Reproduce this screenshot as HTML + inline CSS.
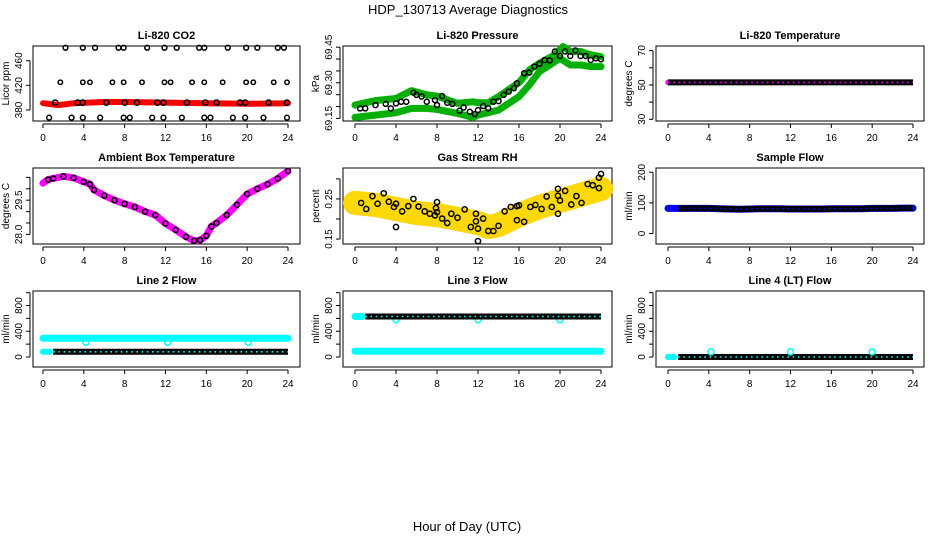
<!DOCTYPE html>
<html><head><meta charset="utf-8"><style>
html,body{margin:0;padding:0;background:#fff;}
svg{display:block;font-family:"Liberation Sans",sans-serif;}
</style></head><body>
<svg id="chart" width="936" height="540" viewBox="0 0 936 540" xmlns="http://www.w3.org/2000/svg">
<text x="468" y="14" text-anchor="middle" font-size="13">HDP_130713  Average Diagnostics</text>
<text x="467" y="531" text-anchor="middle" font-size="13">Hour of Day (UTC)</text>
</svg>
<script>
// ---------- data ----------
const hours = [0,1,2,3,4,5,6,7,8,9,10,11,12,13,14,15,16,17,18,19,20,21,22,23,24];
const xTicks = [0,4,8,12,16,20,24];

// CO2
const co2BandT = [0,1.5,3,6,8,12,16,20,24];
const co2BandV = [391,388,391,393,393,392,391,390,391];
const co2TopT = [2.2,3.9,5.1,7.4,7.9,10.2,11.9,13.1,15.3,15.8,18.1,19.9,21.0,23.0,23.6];
const co2TopV = [481,481,481,481,481,481,481,481,481,481,481,481,481,481,481];
const co2MidT = [1.7,3.9,4.6,6.8,7.9,9.7,11.9,12.5,14.6,15.8,17.6,19.9,20.6,22.6,23.9];
const co2MidV = [425,425,425,425,425,425,425,425,425,425,425,425,425,425,425];
const co2LowT = [1.2,3.4,3.9,6.2,8,9.2,11.2,11.8,14.1,15.9,17,19.3,19.8,22.1,23.9];
const co2LowV = [392,392,392,392,392,392,392,392,392,392,392,392,392,392,392];
const co2BotT = [0.6,2.8,3.9,5.6,7.9,8.5,10.7,11.8,13.6,15.8,16.4,18.6,19.8,21.6,23.9];
const co2BotV = [367.5,367.5,367.5,367.5,367.5,367.5,367.5,367.5,367.5,367.5,367.5,367.5,367.5,367.5,367.5];

// Pressure
const presT = [0.5,1,2,3,3.5,4,4.5,5,5.7,6,6.5,7,7.8,8,8.5,9,9.5,10.2,10.6,11.2,11.7,12,12.5,13,13.5,14,14.5,15,15.5,15.8,16.5,17,17.5,18,18.5,19,19.5,20,20.5,21,21.5,22,22.5,23,23.5,24];
const presV = [69.192,69.192,69.206,69.211,69.192,69.213,69.220,69.220,69.258,69.249,69.242,69.220,69.227,69.206,69.244,69.216,69.211,69.182,69.196,69.178,69.168,69.185,69.202,69.192,69.220,69.223,69.249,69.263,69.277,69.298,69.340,69.343,69.368,69.380,69.396,69.394,69.432,69.413,69.432,69.413,69.436,69.413,69.413,69.396,69.403,69.399];
const presUpT = [0,2,4,5.5,7,8,10,11.5,12,13,14,16,17,18,19.5,20.3,21,22,23,24];
const presUpV = [69.206,69.225,69.234,69.267,69.249,69.244,69.213,69.220,69.216,69.216,69.242,69.301,69.354,69.382,69.418,69.453,69.432,69.432,69.418,69.410];
const presLoT = [0,2,4,5.5,7,8,10,11.5,12,14,16,17,18,19,20,21,22,23,24];
const presLoV = [69.154,69.164,69.174,69.192,69.192,69.188,69.171,69.154,69.164,69.185,69.242,69.291,69.347,69.375,69.403,69.375,69.375,69.368,69.368];

// Li-820 temperature
const tempLi = [51.5,51.5,51.5,51.5,51.5,51.5,51.5,51.5,51.5,51.5,51.5,51.5,51.5,51.5,51.5,51.5,51.5,51.5,51.5,51.5,51.5,51.5,51.5,51.5,51.5];

// Ambient box temperature
const ambT = [0,0.5,1,2,3,4,4.6,5,6,7,8,9,10,11,12,13,14,14.8,15.4,16,16.5,17,18,19,20,21,22,23,24];
const ambV = [30.25,30.4,30.45,30.54,30.48,30.3,30.2,29.95,29.7,29.5,29.34,29.2,29.0,28.85,28.48,28.2,27.9,27.72,27.75,27.94,28.35,28.5,28.85,29.3,29.77,30.0,30.2,30.45,30.78];

// RH
const rhT = [0.6,1.1,1.7,2.2,2.8,3.3,3.8,4,4,4.6,5.2,5.7,6.2,6.8,7.3,7.8,7.9,8,8,8.5,9,9.4,10,10.7,11.3,11.8,11.8,12,12,12.5,13,13.5,14,14.6,15.2,15.8,15.8,16,16.5,17.1,17.6,18.2,18.7,19.2,19.8,19.8,19.8,20,20.5,21.1,21.6,22.1,22.7,23.2,23.8,23.8,24];
const rhV = [0.240,0.225,0.257,0.238,0.264,0.243,0.230,0.238,0.180,0.219,0.232,0.250,0.231,0.219,0.213,0.209,0.227,0.217,0.242,0.201,0.190,0.213,0.203,0.224,0.180,0.213,0.194,0.176,0.145,0.201,0.170,0.170,0.183,0.219,0.230,0.197,0.232,0.234,0.193,0.230,0.235,0.225,0.256,0.230,0.275,0.258,0.213,0.246,0.270,0.236,0.257,0.240,0.287,0.284,0.277,0.303,0.312];
const rhCloudT = [0,2,4,6,8,10,12,13,14,16,18,20,22,24];
const rhCloudV = [0.24,0.235,0.225,0.215,0.21,0.2,0.19,0.18,0.185,0.21,0.23,0.245,0.26,0.275];

// Sample flow
const sampleFlow = [82,82,82,82,82,81,80,79,80,81,81,81,80,80,80,80,81,81,81,81,82,82,82,83,83];

// Line flows
const line2Cyan = [290,290,290,290,290,290,290,290,290,290,290,290,290,290,290,290,290,290,290,290,290,290,290,290,290];
const line2Black = [80,80,80,80,80,80,80,80,80,80,80,80,80,80,80,80,80,80,80,80,80,80,80,80,80];
const line2DipT = [4.2,12.2,20.1];
const line2DipV = [230,230,230];
const line3Upper = [630,630,630,630,630,630,630,630,630,630,630,630,630,630,630,630,630,630,630,630,630,630,630,630,630];
const line3Lower = [90,90,90,90,90,90,90,90,90,90,90,90,90,90,90,90,90,90,90,90,90,90,90,90,90];
const line3DipT = [4,12,20];
const line3DipV = [580,580,580];
const line4Flow = [0,0,0,0,0,0,0,0,0,0,0,0,0,0,0,0,0,0,0,0,0,0,0,0,0];
const line4BlipT = [4.2,12,20];
const line4BlipV = [80,80,80];

// ---------- layout ----------
const NS = "http://www.w3.org/2000/svg";
const svg = document.getElementById('chart');
const colL = [33,343,656], colR = [300,612,924], colX0 = [43,355,668], colX24 = [288,601,913];
const rowT = [46,168,291], rowB = [121,244,367];

function mk(tag, attrs, parent){
  const e = document.createElementNS(NS, tag);
  for (const k in attrs) e.setAttribute(k, attrs[k]);
  (parent||svg).appendChild(e);
  return e;
}

function panel(col,row,title,ylab,ymin,ymax,yticks,ylabels,name){
  const g = mk('g',{});
  
  
  const L=colL[col],R=colR[col],T=rowT[row],B=rowB[row];
  const sx = t => colX0[col] + t*(colX24[col]-colX0[col])/24;
  const sy = v => B - (v-ymin)/(ymax-ymin)*(B-T);
  const box = mk('rect',{x:L,y:T,width:R-L,height:B-T,fill:'none',stroke:'#000','stroke-width':1},g);
  
  
  const tt = mk('text',{x:(L+R)/2,y:T-7,'text-anchor':'middle','font-size':11,'font-weight':'bold'},g);
  tt.textContent = title;
  
  
  const xa = mk('g',{},g);
  
  
  mk('line',{x1:sx(0),x2:sx(24),y1:B+3,y2:B+3,stroke:'#000'},xa);
  xTicks.forEach(t=>{
    mk('line',{x1:sx(t),x2:sx(t),y1:B+3,y2:B+7,stroke:'#000'},xa);
    const lt = mk('text',{x:sx(t),y:B+20,'text-anchor':'middle','font-size':10},xa);
    lt.textContent = t;
    
    
  });
  const ya = mk('g',{},g);
  
  
  mk('line',{x1:L-3,x2:L-3,y1:sy(yticks[0]),y2:sy(yticks[yticks.length-1]),stroke:'#000'},ya);
  yticks.forEach(v=>{ mk('line',{x1:L-7,x2:L-3,y1:sy(v),y2:sy(v),stroke:'#000'},ya); });
  ylabels.forEach(v=>{
    const x=L-11, y=sy(v);
    const lt = mk('text',{x:x,y:y,'text-anchor':'middle','font-size':10,transform:`rotate(-90 ${x} ${y})`},ya);
    lt.textContent = v;
    
    
  });
  const yx=L-24, yy=(T+B)/2;
  const yt = mk('text',{x:yx,y:yy,'text-anchor':'middle','font-size':10,transform:`rotate(-90 ${yx} ${yy})`},g);
  yt.textContent = ylab;
  
  
  const clip = mk('g',{},g);
  return {g:clip,sx,sy};
}

function line(p,ts,vs,color,w,name,extra){
  const pts = [];
  ts.forEach((t,i)=>{ if(vs[i]!==null) pts.push(p.sx(t).toFixed(1)+','+p.sy(vs[i]).toFixed(1)); });
  const a = {points:pts.join(' '),fill:'none',stroke:color,'stroke-width':w,'stroke-linecap':'round','stroke-linejoin':'round'};
  if(extra) for(const k in extra) a[k]=extra[k];
  const e = mk('polyline',a,p.g);
  
  
  return e;
}
function circles(p,ts,vs,color,r,name,fill){
  ts.forEach((t,i)=>{
    const c = mk('circle',{cx:p.sx(t),cy:p.sy(vs[i]),r:r,fill:fill||'none',stroke:color,'stroke-width':1.5},p.g);
    
    
  });
}
function beadBand(p,ts,vs,color,bg,name){
  line(p,ts,vs,'#000',6,name,{'stroke-linecap':'butt'});
  line(p,ts,vs,bg,1.6,name+'-holes',{'stroke-dasharray':'1.6 3.6','stroke-linecap':'butt'});
}

// CO2
let p = panel(0,0,'Li-820 CO2','Licor ppm',362.1,483.9,[380,420,460],[380,420,460],'co2');
line(p,co2BandT,co2BandV,'#ff0000',6,'co2-band');
circles(p,co2TopT,co2TopV,'#000',2.4,'co2-point');
circles(p,co2MidT,co2MidV,'#000',2.2,'co2-point');
circles(p,co2LowT,co2LowV,'#000',2.6,'co2-point');
circles(p,co2BotT,co2BotV,'#000',2.4,'co2-point');

// Pressure
p = panel(1,0,'Li-820 Pressure','kPa',69.139,69.455,[69.15,69.20,69.25,69.30,69.35,69.40,69.45],['69.15','69.30','69.45'],'pressure');
line(p,presUpT,presUpV,'#00e600',7,'pressure-band-upper');
line(p,presLoT,presLoV,'#00e600',7,'pressure-band-lower');
line(p,presUpT,presUpV,'#117711',7,'pressure-band-upper-dots',{'stroke-dasharray':'1 2','stroke-opacity':0.5});
line(p,presLoT,presLoV,'#117711',7,'pressure-band-lower-dots',{'stroke-dasharray':'1 2','stroke-opacity':0.5});
circles(p,presT,presV,'#000',2.5,'pressure-point');

// Li-820 temperature
p = panel(2,0,'Li-820 Temperature','degrees C',29.0,72.7,[30,40,50,60,70],[30,50,70],'li820-temp');
line(p,[0,0.6],[tempLi[0],tempLi[0]],'#ff00ff',5.5,'li820-temp-band-start');
beadBand(p,hours,tempLi,'#000','#ff00ff','li820-temp-series');

// Ambient
p = panel(0,1,'Ambient Box Temperature','degrees C',27.58,30.91,[28.0,28.5,29.0,29.5,30.0,30.5],['28.0','29.5'],'ambient-temp');
line(p,ambT,ambV,'#ff00ff',7,'ambient-temp-band');
circles(p,ambT.slice(1),ambV.slice(1),'#000',2.5,'ambient-temp-point');

// RH
p = panel(1,1,'Gas Stream RH','percent',0.1377,0.327,[0.15,0.20,0.25,0.30],['0.15','0.25'],'rh');
line(p,rhCloudT,rhCloudV,'#f59a00',24,'rh-cloud',{'stroke-opacity':0.9});
line(p,rhCloudT,rhCloudV,'#ffee00',24,'rh-cloud-dots',{'stroke-dasharray':'1 1.5','stroke-opacity':0.7});
circles(p,rhT,rhV,'#000',2.6,'rh-point');

// Sample flow
p = panel(2,1,'Sample Flow','ml/min',-34.3,213.8,[0,100,200],[0,100,200],'sample-flow');
line(p,hours,sampleFlow,'#0000ff',7,'sample-flow-band');
beadBand(p,hours.slice(1),sampleFlow.slice(1),'#000','#0000ff','sample-flow-series');

// Line 2
const fTicks=[0,200,400,600,800,1000], fLabels=[0,400,800];
p = panel(0,2,'Line 2 Flow','ml/min',-155.6,1026,fTicks,fLabels,'line2-flow');
line(p,hours,line2Cyan,'#00ffff',7,'line2-flow-cyan');
circles(p,line2DipT,line2DipV,'#00ffff',3,'line2-flow-dip');
line(p,[0,0.7],[line2Black[0],line2Black[0]],'#00ffff',6,'line2-flow-black-start');
beadBand(p,hours.slice(1),line2Black.slice(1),'#000','#00ffff','line2-flow-black');

// Line 3
p = panel(1,2,'Line 3 Flow','ml/min',-155.6,1026,fTicks,fLabels,'line3-flow');
line(p,hours,line3Lower,'#00ffff',7,'line3-flow-lower');
line(p,[0,0.7],[line3Upper[0],line3Upper[0]],'#00ffff',7,'line3-flow-upper-start');
circles(p,line3DipT,line3DipV,'#00ffff',3,'line3-flow-dip');
beadBand(p,hours.slice(1),line3Upper.slice(1),'#000','#00ffff','line3-flow-upper');

// Line 4
p = panel(2,2,'Line 4 (LT) Flow','ml/min',-155.6,1026,fTicks,fLabels,'line4-flow');
line(p,[0,0.6],[line4Flow[0],line4Flow[0]],'#00ffff',6,'line4-flow-start');
beadBand(p,hours.slice(1),line4Flow.slice(1),'#000','#00ffff','line4-flow-series');
circles(p,line4BlipT,line4BlipV,'#00ffff',3,'line4-flow-blip');
</script>
</body></html>
